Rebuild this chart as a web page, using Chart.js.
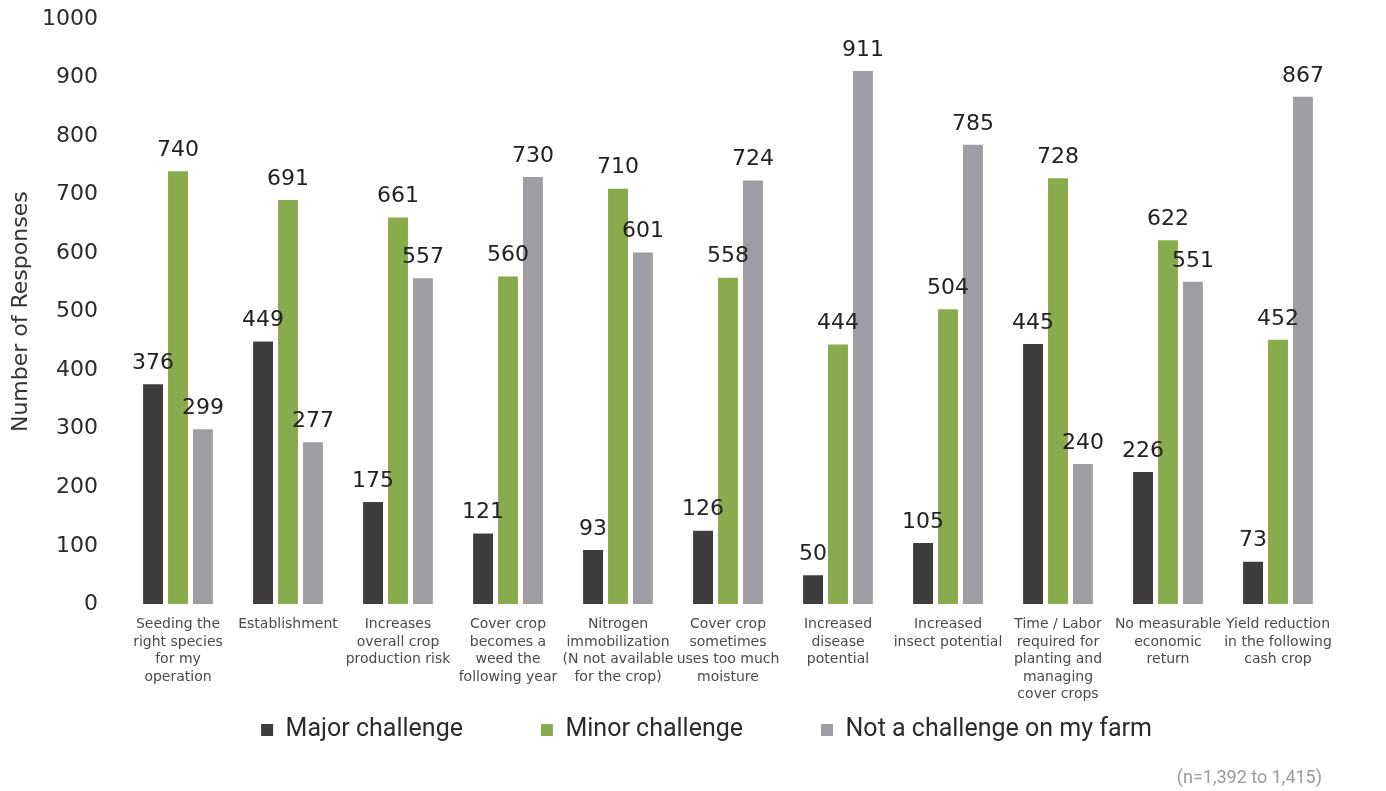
<!DOCTYPE html>
<html>
<head>
<meta charset="utf-8">
<script src="https://cdn.jsdelivr.net/npm/chart.js@4/dist/chart.umd.min.js"></script>
<style>
  html, body { margin: 0; padding: 0; background: #fff; }
  #wrap { width: 1386px; height: 791px; }
</style>
</head>
<body>
<div id="wrap"><canvas id="myChart" width="1386" height="791"></canvas></div>
<script>
const categories = [
  ['Seeding the', 'right species', 'for my', 'operation'],
  ['Establishment'],
  ['Increases', 'overall crop', 'production risk'],
  ['Cover crop', 'becomes a', 'weed the', 'following year'],
  ['Nitrogen', 'immobilization', '(N not available', 'for the crop)'],
  ['Cover crop', 'sometimes', 'uses too much', 'moisture'],
  ['Increased', 'disease', 'potential'],
  ['Increased', 'insect potential'],
  ['Time / Labor', 'required for', 'planting and', 'managing', 'cover crops'],
  ['No measurable', 'economic', 'return'],
  ['Yield reduction', 'in the following', 'cash crop']
];
const majorChallenge = [376, 449, 175, 121, 93, 126, 50, 105, 445, 226, 73];
const minorChallenge = [740, 691, 661, 560, 710, 558, 444, 504, 728, 622, 452];
const notAChallenge = [299, 277, 557, 730, 601, 724, 911, 785, 240, 551, 867];
const yTicks = [0, 100, 200, 300, 400, 500, 600, 700, 800, 900, 1000];

// value labels above each bar
const barLabels = {
  id: 'barLabels',
  afterDatasetsDraw(chart) {
    const ctx = chart.ctx;
    ctx.save();
    ctx.font = '22px "DejaVu Sans", sans-serif';
    ctx.fillStyle = '#222';
    ctx.textAlign = 'center';
    ctx.textBaseline = 'middle';
    chart.data.datasets.forEach((ds, i) => {
      chart.getDatasetMeta(i).data.forEach((bar, j) => {
        ctx.fillText(ds.data[j], bar.x, bar.y - 21);
      });
    });
    ctx.restore();
  }
};

// nudge legend a bit right and the note a bit left, like the original
const nudge = {
  id: 'nudge',
  afterLayout(chart) {
    chart.legend.left += 80;
    chart.titleBlock.right -= 11;
  }
};

const myChart = document.getElementById('myChart');
new Chart(myChart, {
  type: 'bar',
  data: {
    labels: categories,
    datasets: [{
      label: 'Major challenge',
      data: majorChallenge,
      backgroundColor: '#3f3c3d'
    }, {
      label: 'Minor challenge',
      data: minorChallenge,
      backgroundColor: '#8aab4d'
    }, {
      label: 'Not a challenge on my farm',
      data: notAChallenge,
      backgroundColor: '#9f9ca3'
    }]
  },
  options: {
    responsive: false,
    animation: false,
    categoryPercentage: 0.68,
    barPercentage: 0.8,
    layout: { padding: { top: 19, right: 53, left: 0, bottom: 0 } },
    plugins: {
      tooltip: { enabled: false },
      legend: {
        position: 'bottom',
        labels: {
          font: { family: 'Roboto', size: 25 },
          color: '#2b2b2b',
          boxWidth: 12,
          boxHeight: 12,
          padding: 78
        }
      },
      title: {
        display: true,
        position: 'bottom',
        align: 'end',
        text: '(n=1,392 to 1,415)',
        color: '#9a9a9a',
        font: { family: 'Roboto', size: 18, weight: 'normal' },
        padding: { top: 15, bottom: 2 }
      }
    },
    scales: {
      x: {
        grid: { display: false },
        border: { display: false },
        ticks: {
          color: '#4a4a4a',
          font: { family: '"DejaVu Sans", sans-serif', size: 14, lineHeight: 1.25 },
          maxRotation: 0,
          autoSkip: false,
          mirror: true,   // avoids clipping to the short axis box
          padding: -29
        },
        afterFit(scale) { scale.height = 35; }
      },
      y: {
        min: 0,
        max: 1000,
        afterBuildTicks(scale) { scale.ticks = yTicks.map(v => ({ value: v })); },
        grid: { display: true, drawOnChartArea: false, drawTicks: true, tickLength: 25, tickColor: 'rgba(0,0,0,0)' },
        border: { display: false },
        ticks: {
          color: '#2a2a2a',
          font: { family: '"DejaVu Sans", sans-serif', size: 22 },
          padding: 0,
          callback: v => String(v)
        },
        title: {
          display: true,
          text: 'Number of Responses',
          color: '#333',
          font: { family: '"DejaVu Sans", sans-serif', size: 22 },
          padding: { top: 8, bottom: 0 }
        },
        afterFit(scale) { scale.width = 123; }
      }
    }
  },
  plugins: [barLabels, nudge]
});
</script>
</body>
</html>
